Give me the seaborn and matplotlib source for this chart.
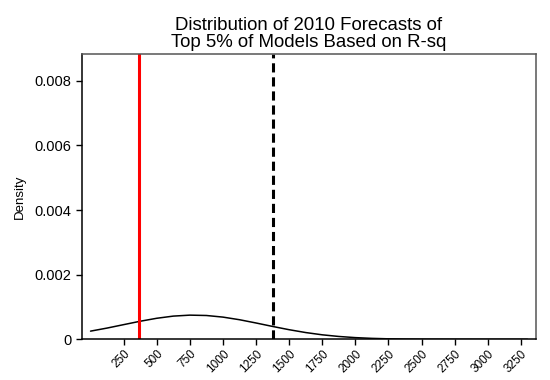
import seaborn as sns
import matplotlib.pyplot as plt
import pandas as pd

sns.set_style("white")
plt.rcParams['font.family'] = ['Liberation Sans', 'DejaVu Sans']
plt.rcParams['text.color'] = 'black'
plt.rcParams['axes.labelcolor'] = 'black'
plt.rcParams['xtick.color'] = 'black'
plt.rcParams['ytick.color'] = 'black'

# density curve
forecast = [0, 125, 250, 375, 500, 625, 750, 875, 1000, 1125, 1250, 1375,
            1500, 1625, 1750, 1875, 2000, 2125, 2250, 2375, 2500, 2750, 3000, 3300]
density = [0.000254, 0.000349, 0.000455, 0.000560, 0.000652, 0.000719, 0.000749,
           0.000738, 0.000688, 0.000607, 0.000506, 0.000399, 0.000298, 0.000210,
           0.000140, 0.000089, 0.000053, 0.000030, 0.000016, 0.000008, 0.000004,
           0.000001, 0.0, 0.0]

actual_value = 368      # red line
mean_forecast = 1375    # dashed line

xticks = list(range(250, 3251, 250))
yticks = [0, 0.002, 0.004, 0.006, 0.008]
ytick_labels = ['0', '0.002', '0.004', '0.006', '0.008']

df = pd.DataFrame({'forecast': forecast, 'density': density})

fig = plt.figure(figsize=(5.5, 3.8), dpi=100)
ax = fig.add_axes([0.1485, 0.107, 0.826, 0.750])

sns.lineplot(data=df, x='forecast', y='density', color='black', linewidth=1.1, ax=ax)
ax.axvline(actual_value, color='#ff0000', linewidth=2.2)
ax.axvline(mean_forecast, color='black', linewidth=2.2, linestyle=(0, (3, 1.6)))

ax.set_xlim(-67, 3364)
ax.set_ylim(0, 0.00882)
ax.set_xticks(xticks)
ax.set_xticklabels([str(t) for t in xticks], rotation=45, ha='right',
                   rotation_mode='anchor', fontsize=8.5)
ax.set_yticks(yticks)
ax.set_yticklabels(ytick_labels, fontsize=10.5)
ax.tick_params(axis='both', direction='out', length=4, width=1,
               left=True, bottom=True)
ax.tick_params(axis='x', pad=2)

ax.set_xlabel('')
ax.set_ylabel('Density', fontsize=9.5, labelpad=6)
ax.set_title('Distribution of 2010 Forecasts of\nTop 5% of Models Based on R-sq',
             fontsize=13.4, pad=5, linespacing=1.0)

for side in ['left', 'bottom']:
    ax.spines[side].set_color('black')
    ax.spines[side].set_linewidth(1.1)
for side in ['top', 'right']:
    ax.spines[side].set_color('#555555')
    ax.spines[side].set_linewidth(1.1)

fig.savefig('out.png', dpi=100)
